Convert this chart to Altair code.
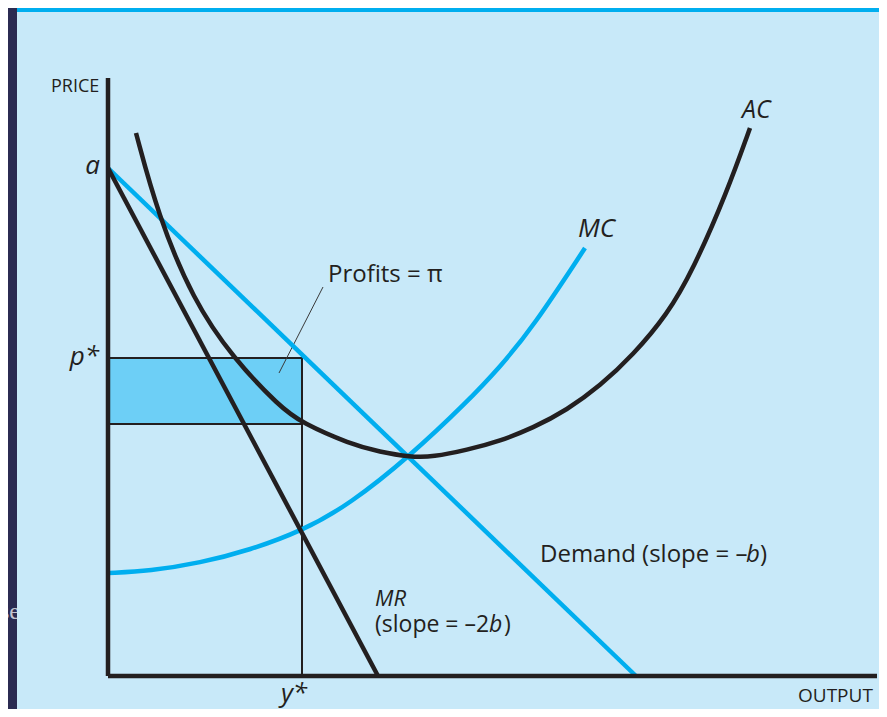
import altair as alt
import pandas as pd

# ---- data (x = output, y = price; origin at the axes corner) ----
demand_x = [0, 528]
demand_y = [508, 0]
mr_x = [0, 270]
mr_y = [508, 0]

ac_x = [28, 50, 85, 125, 172, 194, 242, 272, 302, 325, 359, 392, 425, 459, 492, 525, 559, 585, 619, 642]
ac_y = [543, 461, 376, 318, 269, 253, 232, 224, 219, 219, 226, 235, 248, 266, 290, 321, 361, 406, 484, 548]

mc_x = [0, 42, 92, 142, 194, 242, 302, 359, 392, 425, 477]
mc_y = [103, 105, 113, 126, 145, 172, 220, 274, 309, 349, 428]

y_star = 194
p_star = 318
ac_at_y_star = 252
x_axis_end = 769
y_axis_end = 598

leader_x = [215, 171]
leader_y = [389, 303]

# labels: text, x, y, size, style, align
lab_text = ["PRICE", "OUTPUT", "Profits = π", "Demand (slope = –", ")", "(slope = –2", ")",
            "a", "p*", "y*", "MC", "AC", "MR", "b", "b"]
lab_x = [-57, 690, 220, 432, 652, 267, 396, -8, -9, 186, 470, 634, 267, 638, 381]
lab_y = [584, -26, 394, 114, 114, 44, 44, 502, 311, -26, 439, 558, 70, 114, 44]
lab_size = [18, 19, 24, 24, 24, 23, 23, 26, 26, 26, 26, 25, 22, 24, 23]
lab_style = ["normal"] * 7 + ["italic"] * 8
lab_align = ["left"] * 7 + ["right", "right", "center", "left", "left", "left", "left", "left"]

# ---- scales ----
xs = alt.Scale(domain=[-100, 771], nice=False, zero=False)
ys = alt.Scale(domain=[-33, 668], nice=False, zero=False)

BLACK = "#231f20"
BLUE = "#00aeef"
FONT = "Open Sans"


def seg(xv, yv):
    return pd.DataFrame({"x": xv, "y": yv, "o": list(range(len(xv)))})


def line(df, color, width, interp="linear"):
    return alt.Chart(df).mark_line(color=color, strokeWidth=width, interpolate=interp).encode(
        x=alt.X("x:Q", scale=xs, axis=None),
        y=alt.Y("y:Q", scale=ys, axis=None),
        order="o:Q",
    )


one = pd.DataFrame({"k": [0]})
panel = alt.Chart(one).mark_rect(color="#c8e9f9").encode(
    x=alt.value(9), x2=alt.value(871), y=alt.value(3), y2=alt.value(701))
topline = alt.Chart(one).mark_rect(color=BLUE).encode(
    x=alt.value(9), x2=alt.value(871), y=alt.value(0), y2=alt.value(4))
ghost = alt.Chart(pd.DataFrame({"t": ["se"]})).mark_text(
    align="right", baseline="alphabetic", font="Liberation Serif", fontSize=24, color="#c4c4d0"
).encode(text="t:N", x=alt.value(12), y=alt.value(611))

profit_rect = alt.Chart(pd.DataFrame({"x": [0], "x2": [y_star], "y": [ac_at_y_star], "y2": [p_star]})).mark_rect(
    color="#6dcff6", stroke=BLACK, strokeWidth=2
).encode(x=alt.X("x:Q", scale=xs, axis=None), x2="x2:Q",
         y=alt.Y("y:Q", scale=ys, axis=None), y2="y2:Q")

vline = line(seg([y_star, y_star], [0, p_star]), BLACK, 2)
leader = line(seg(leader_x, leader_y), "#3a3a3a", 1)

mc = line(seg(mc_x, mc_y), BLUE, 4.5, "basis")
demand = line(seg(demand_x, demand_y), BLUE, 4.5)
mr = line(seg(mr_x, mr_y), BLACK, 4.5)
ac = line(seg(ac_x, ac_y), BLACK, 4.5, "basis")

y_axis = line(seg([0, 0], [0, y_axis_end]), BLACK, 4.5)
x_axis = line(seg([0, x_axis_end], [0, 0]), BLACK, 4.5)

labels = pd.DataFrame({"text": lab_text, "x": lab_x, "y": lab_y, "size": lab_size,
                       "style": lab_style, "align": lab_align})

text_layers = []
for st in ["normal", "italic"]:
    for al in ["left", "right", "center"]:
        sub = labels[(labels["style"] == st) & (labels["align"] == al)]
        if len(sub) == 0:
            continue
        text_layers.append(
            alt.Chart(sub).mark_text(align=al, baseline="alphabetic", font=FONT, fontStyle=st,
                                     color=BLACK).encode(
                x=alt.X("x:Q", scale=xs, axis=None),
                y=alt.Y("y:Q", scale=ys, axis=None),
                text="text:N",
                size=alt.Size("size:Q", scale=None, legend=None),
            )
        )

chart = alt.layer(
    ghost, panel, topline, profit_rect, vline, leader, mc, demand, mr, ac, y_axis, x_axis,
    *text_layers
).properties(
    width=871, height=701, background="#2b2b52", padding=0,
    autosize=alt.AutoSizeParams(type="none"),
).configure_view(strokeWidth=0)

chart.save("out.html", embed_options={"renderer": "svg", "actions": False})
